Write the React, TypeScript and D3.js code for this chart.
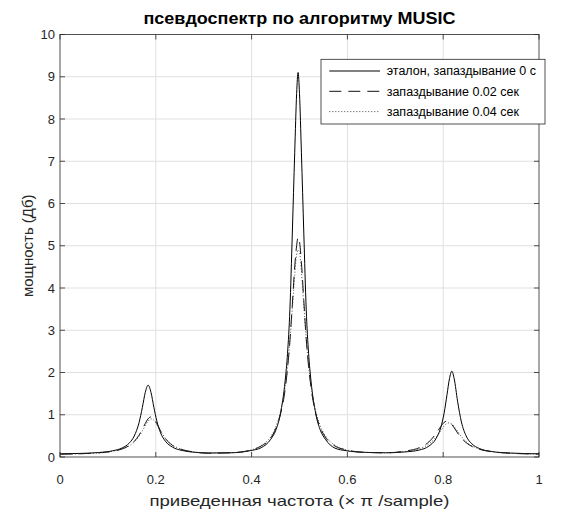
import React from "react";
import * as d3 from "d3";

// normalized frequency (x pi rad/sample)
const freq = [
  0, 0.04, 0.08, 0.11, 0.13, 0.145, 0.155, 0.165, 0.172, 0.178, 0.184, 0.19, 0.196, 0.202, 0.21, 0.22,
  0.235, 0.255, 0.28, 0.31, 0.357, 0.397, 0.42, 0.44, 0.45, 0.46, 0.47, 0.475, 0.48, 0.485, 0.49, 0.494,
  0.497, 0.5, 0.504, 0.509, 0.514, 0.519, 0.524, 0.534, 0.544, 0.554, 0.574, 0.597, 0.637, 0.68, 0.72,
  0.75, 0.77, 0.785, 0.795, 0.802, 0.808, 0.813, 0.818, 0.823, 0.83, 0.838, 0.848, 0.86, 0.875, 0.9,
  0.94, 0.97, 1,
];

const etalon = [
  0.075, 0.084, 0.105, 0.147, 0.216, 0.335, 0.497, 0.812, 1.176, 1.527, 1.7, 1.527, 1.176, 0.857, 0.571, 0.374,
  0.233, 0.154, 0.113, 0.095, 0.1, 0.15, 0.22, 0.42, 0.62, 1.02, 1.8, 2.45, 3.5, 5.3, 7.2, 8.6,
  9.1, 8.6, 7.2, 5.3, 3.5, 2.45, 1.8, 1.02, 0.62, 0.42, 0.21, 0.15, 0.11, 0.1, 0.12,
  0.165, 0.257, 0.435, 0.7, 1.045, 1.48, 1.85, 2.03, 1.85, 1.32, 0.83, 0.496, 0.31, 0.204, 0.132,
  0.093, 0.082, 0.075,
];

const delay002 = [
  0.067, 0.076, 0.098, 0.136, 0.192, 0.275, 0.37, 0.517, 0.658, 0.792, 0.905, 0.95, 0.905, 0.792, 0.616, 0.436,
  0.275, 0.174, 0.119, 0.09, 0.1, 0.16, 0.26, 0.45, 0.66, 1.0, 1.6, 2.1, 2.75, 3.6, 4.5, 5.0,
  5.2, 5.1, 4.6, 3.7, 2.8, 2.15, 1.65, 1.03, 0.68, 0.47, 0.26, 0.17, 0.11, 0.1, 0.14,
  0.22, 0.357, 0.554, 0.723, 0.82, 0.85, 0.83, 0.77, 0.69, 0.57, 0.45, 0.338, 0.25, 0.184, 0.127,
  0.089, 0.076, 0.069,
];

const delay004 = [
  0.067, 0.076, 0.097, 0.135, 0.189, 0.268, 0.356, 0.491, 0.619, 0.74, 0.847, 0.9, 0.872, 0.779, 0.619, 0.445,
  0.282, 0.179, 0.121, 0.092, 0.1, 0.16, 0.27, 0.48, 0.7, 1.05, 1.65, 2.1, 2.75, 3.5, 4.3, 4.78,
  4.9, 4.85, 4.4, 3.6, 2.8, 2.15, 1.7, 1.08, 0.72, 0.5, 0.28, 0.17, 0.11, 0.1, 0.13,
  0.194, 0.307, 0.47, 0.625, 0.734, 0.797, 0.81, 0.781, 0.72, 0.609, 0.484, 0.361, 0.263, 0.19, 0.129,
  0.09, 0.076, 0.069,
];

const xTicks = [0, 0.2, 0.4, 0.6, 0.8, 1];
const yTicks = [0, 1, 2, 3, 4, 5, 6, 7, 8, 9, 10];
const legendLabels = ["эталон, запаздывание 0 с", "запаздывание 0.02 сек", "запаздывание 0.04 сек"];

const W = 573;
const H = 515;
const left = 60;
const right = 539;
const top = 34.5;
const bottom = 457;
const font = "'Liberation Sans', Arial, sans-serif";
const axisColor = "#262626";

export default function App() {
  const x = d3.scaleLinear().domain([0, 1]).range([left, right]);
  const y = d3.scaleLinear().domain([0, 10]).range([bottom, top]);

  const makeLine = (vals: number[]) =>
    d3
      .line<number>()
      .x((_, i) => x(freq[i]))
      .y((d) => y(d))
      .curve(d3.curveMonotoneX)(vals) || "";

  const series = [
    { vals: etalon, dash: undefined, stroke: "#000", width: 1 },
    { vals: delay002, dash: "12,7", stroke: "#111", width: 1 },
    { vals: delay004, dash: "1,2", stroke: "#333", width: 0.9 },
  ];

  const tickLen = 5;
  const cx = (left + right) / 2;

  return (
    <svg
      width={W}
      height={H}
      style={{ position: "absolute", left: 0, top: 0, background: "#fff" }}
      fontFamily={font}
    >
      <rect x={0} y={0} width={W} height={H} fill="#fff" />
      <defs>
        <clipPath id="plot">
          <rect x={left} y={top} width={right - left} height={bottom - top} />
        </clipPath>
      </defs>

      {/* grid */}
      <g stroke="#e0e0e0" strokeWidth={1}>
        {xTicks.slice(1, -1).map((t) => (
          <line key={"gx" + t} x1={x(t)} x2={x(t)} y1={top} y2={bottom} />
        ))}
        {yTicks.slice(1, -1).map((t) => (
          <line key={"gy" + t} x1={left} x2={right} y1={y(t)} y2={y(t)} />
        ))}
      </g>

      {/* curves */}
      <g clipPath="url(#plot)" fill="none">
        {series.map((s, i) => (
          <path
            key={i}
            d={makeLine(s.vals)}
            stroke={s.stroke}
            strokeWidth={s.width}
            strokeDasharray={s.dash}
          />
        ))}
      </g>

      {/* box and ticks */}
      <rect x={left} y={top} width={right - left} height={bottom - top} fill="none" stroke={axisColor} strokeWidth={0.8} />
      <g stroke={axisColor} strokeWidth={0.8}>
        {xTicks.map((t) => (
          <g key={"tx" + t}>
            <line x1={x(t)} x2={x(t)} y1={bottom} y2={bottom - tickLen} />
            <line x1={x(t)} x2={x(t)} y1={top} y2={top + tickLen} />
          </g>
        ))}
        {yTicks.map((t) => (
          <g key={"ty" + t}>
            <line x1={left} x2={left + tickLen} y1={y(t)} y2={y(t)} />
            <line x1={right} x2={right - tickLen} y1={y(t)} y2={y(t)} />
          </g>
        ))}
      </g>

      {/* tick labels */}
      <g fill={axisColor} fontSize={13}>
        {xTicks.map((t) => (
          <text key={"lx" + t} x={x(t)} y={484} textAnchor="middle">
            {String(t)}
          </text>
        ))}
        {yTicks.map((t) => (
          <text key={"ly" + t} x={left - 5} y={y(t) + 4.5} textAnchor="end">
            {String(t)}
          </text>
        ))}
      </g>

      {/* title and axis labels */}
      <text
        x={cx}
        y={23.5}
        textAnchor="middle"
        fontSize={16}
        fontWeight="bold"
        fill="#000"
        textLength={312}
        lengthAdjust="spacingAndGlyphs"
      >
        псевдоспектр по алгоритму MUSIC
      </text>
      <text
        x={cx}
        y={506}
        textAnchor="middle"
        fontSize={15}
        fill={axisColor}
        textLength={300}
        lengthAdjust="spacingAndGlyphs"
      >
        приведенная частота (× π /sample)
      </text>
      <text
        transform={`translate(33,${(top + bottom) / 2}) rotate(-90)`}
        textAnchor="middle"
        fontSize={15}
        fill={axisColor}
      >
        мощность (Дб)
      </text>

      {/* legend */}
      <g>
        <rect x={321} y={59.3} width={224} height={64.7} fill="#fff" stroke={axisColor} strokeWidth={0.8} />
        {legendLabels.map((lab, i) => {
          const ly = 71 + i * 20.3;
          const s = series[i];
          return (
            <g key={lab}>
              <line x1={329.3} x2={380} y1={ly} y2={ly} stroke={s.stroke} strokeWidth={s.width} strokeDasharray={s.dash} />
              <text x={386.7} y={ly + 4.3} fontSize={12.5} fill="#000">
                {lab}
              </text>
            </g>
          );
        })}
      </g>
    </svg>
  );
}
